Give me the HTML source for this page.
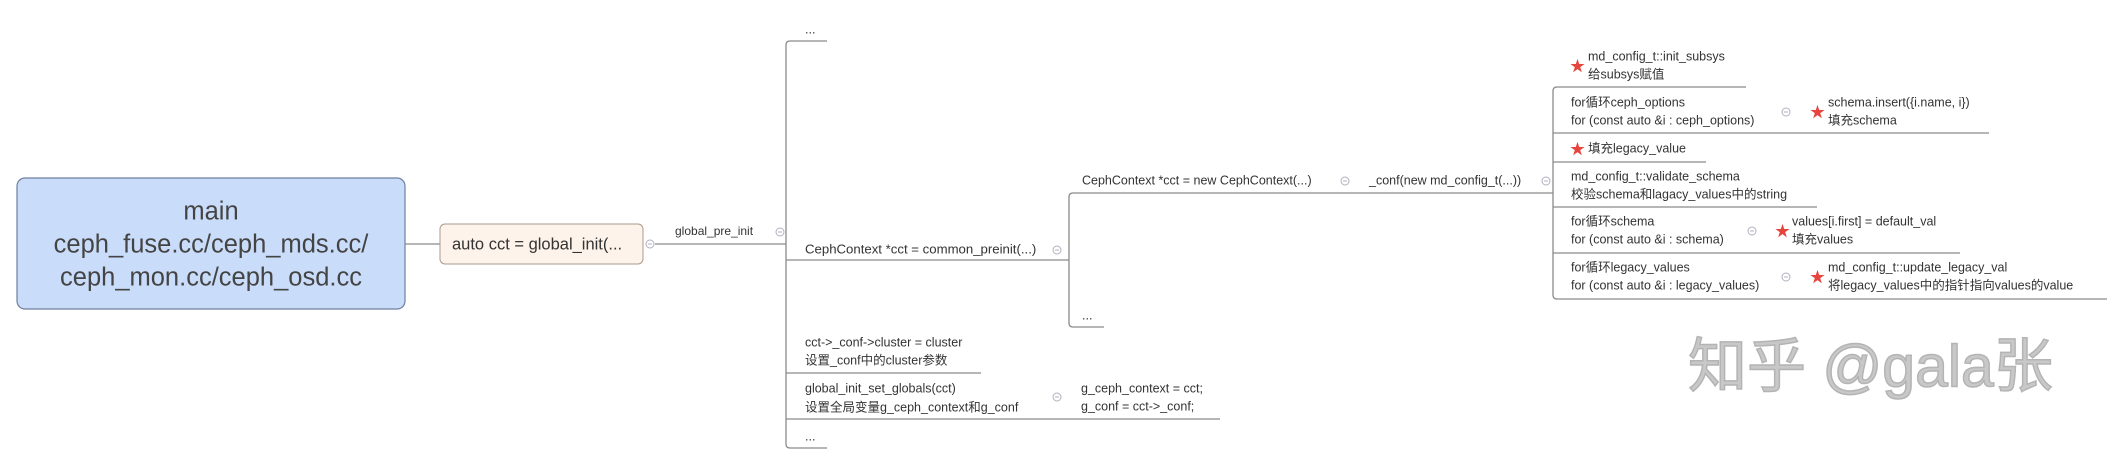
<!DOCTYPE html>
<html><head><meta charset="utf-8"><style>
html,body{margin:0;padding:0;background:#fff;}
svg{display:block;}
text{font-family:"Liberation Sans","Noto Sans CJK SC",sans-serif;fill:#333;font-size:12.5px;dominant-baseline:middle;}
.l{fill:none;stroke:#8a8a8a;stroke-width:1.3;}
.c{fill:#fff;stroke:#b0b0c0;stroke-width:1;}
.m{stroke:#b0b0c0;stroke-width:1;}
.s{fill:#e5453c;font-size:15px;}
</style></head><body>
<svg width="2124" height="463" viewBox="0 0 2124 463" xmlns="http://www.w3.org/2000/svg">
<rect x="17" y="178" width="388" height="131" rx="8" fill="#c9dcfa" stroke="#6f7fa0" stroke-width="1.2"/>
<text x="211" y="213" text-anchor="middle" style="font-size:25.5px;fill:#444">main</text>
<text x="211" y="246" text-anchor="middle" style="font-size:25.5px;fill:#444">ceph_fuse.cc/ceph_mds.cc/</text>
<text x="211" y="279" text-anchor="middle" style="font-size:25.5px;fill:#444">ceph_mon.cc/ceph_osd.cc</text>
<path class="l" d="M405,244 H440"/>
<rect x="440" y="224" width="203" height="40" rx="5" fill="#fdf3ea" stroke="#a99a8c" stroke-width="1"/>
<text x="452" y="245" style="font-size:16.5px">auto cct = global_init(...</text>
<circle class="c" cx="650" cy="244" r="4"/><path class="m" d="M648,244 H652"/>
<path class="l" d="M655,244 H786"/>
<text x="675" y="232" style="font-size:12px">global_pre_init</text>
<circle class="c" cx="780" cy="232" r="4"/><path class="m" d="M778,232 H782"/>
<path class="l" d="M827,41 H790 Q786,41 786,45 V444 Q786,448 790,448 H827"/>
<path class="l" d="M786,260 H1069"/>
<path class="l" d="M786,373 H981"/>
<path class="l" d="M786,419 H1220"/>
<text x="805" y="30">...</text>
<text x="805" y="250" style="font-size:13.2px">CephContext *cct = common_preinit(...)</text>
<circle class="c" cx="1057" cy="250" r="4"/><path class="m" d="M1055,250 H1059"/>
<text x="805" y="343">cct-&gt;_conf-&gt;cluster = cluster</text>
<text x="805" y="361">设置_conf中的cluster参数</text>
<text x="805" y="389">global_init_set_globals(cct)</text>
<text x="805" y="408">设置全局变量g_ceph_context和g_conf</text>
<circle class="c" cx="1057" cy="397" r="4"/><path class="m" d="M1055,397 H1059"/>
<text x="805" y="437">...</text>
<text x="1081" y="389">g_ceph_context = cct;</text>
<text x="1081" y="407">g_conf = cct-&gt;_conf;</text>
<path class="l" d="M1553,193 H1073 Q1069,193 1069,197 V323 Q1069,327 1073,327 H1104"/>
<text x="1082" y="181">CephContext *cct = new CephContext(...)</text>
<circle class="c" cx="1345" cy="181" r="4"/><path class="m" d="M1343,181 H1347"/>
<text x="1369" y="181">_conf(new md_config_t(...))</text>
<circle class="c" cx="1546" cy="181" r="4"/><path class="m" d="M1544,181 H1548"/>
<text x="1082" y="316">...</text>
<path class="l" d="M1746,87 H1557 Q1553,87 1553,91 V295 Q1553,299 1557,299 H2107"/>
<path class="l" d="M1553,133 H1989"/>
<path class="l" d="M1553,162 H1706"/>
<path class="l" d="M1553,207 H1817"/>
<path class="l" d="M1553,253 H1960"/>
<text class="s" x="1570" y="67">★</text>
<text x="1588" y="57">md_config_t::init_subsys</text>
<text x="1588" y="75">给subsys赋值</text>
<text x="1571" y="103">for循环ceph_options</text>
<text x="1571" y="121">for (const auto &amp;i : ceph_options)</text>
<circle class="c" cx="1786" cy="112" r="4"/><path class="m" d="M1784,112 H1788"/>
<text class="s" x="1810" y="113">★</text>
<text x="1828" y="103">schema.insert({i.name, i})</text>
<text x="1828" y="121">填充schema</text>
<text class="s" x="1570" y="150">★</text>
<text x="1588" y="149">填充legacy_value</text>
<text x="1571" y="177">md_config_t::validate_schema</text>
<text x="1571" y="195">校验schema和lagacy_values中的string</text>
<text x="1571" y="222">for循环schema</text>
<text x="1571" y="240">for (const auto &amp;i : schema)</text>
<circle class="c" cx="1752" cy="231" r="4"/><path class="m" d="M1750,231 H1754"/>
<text class="s" x="1775" y="232">★</text>
<text x="1792" y="222">values[i.first] = default_val</text>
<text x="1792" y="240">填充values</text>
<text x="1571" y="268">for循环legacy_values</text>
<text x="1571" y="286">for (const auto &amp;i : legacy_values)</text>
<circle class="c" cx="1786" cy="277" r="4"/><path class="m" d="M1784,277 H1788"/>
<text class="s" x="1810" y="278">★</text>
<text x="1828" y="268">md_config_t::update_legacy_val</text>
<text x="1828" y="286">将legacy_values中的指针指向values的value</text>
<text x="1688" y="371" style="font-size:59px;fill:#c8c8c8;stroke:#b4b4b4;stroke-width:1.5">知乎 @gala张</text>
</svg>
</body></html>
